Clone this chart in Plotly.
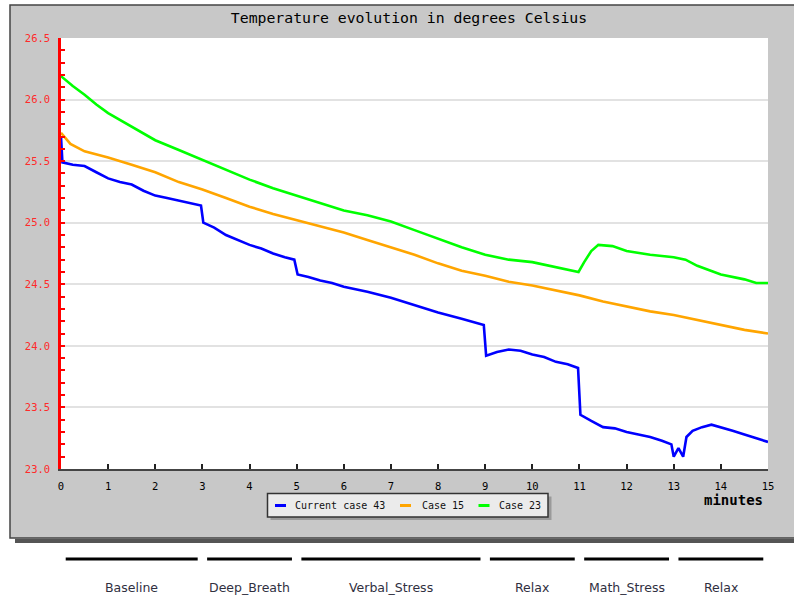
import plotly.graph_objects as go

# ---- data ----
t_blue = [0, 0.03, 0.25, 0.5, 0.75, 1.0, 1.25, 1.5, 1.75, 2.0, 2.25, 2.5, 2.75, 2.97, 3.02,
          3.25, 3.5, 3.75, 4.0, 4.25, 4.5, 4.75, 4.95, 5.02, 5.25, 5.5, 5.75, 6.0, 6.5, 7.0,
          7.5, 8.0, 8.5, 8.97, 9.02, 9.25, 9.5, 9.75, 10.0, 10.25, 10.5, 10.75, 10.97, 11.02,
          11.25, 11.5, 11.75, 12.0, 12.25, 12.5, 12.75, 12.95, 13.0, 13.1, 13.2, 13.27, 13.4,
          13.6, 13.8, 14.0, 14.25, 14.5, 14.75, 15.0]
v_blue = [25.70, 25.49, 25.47, 25.46, 25.41, 25.36, 25.33, 25.31, 25.26, 25.22, 25.20, 25.18,
          25.16, 25.14, 25.00, 24.96, 24.90, 24.86, 24.82, 24.79, 24.75, 24.72, 24.70, 24.58,
          24.56, 24.53, 24.51, 24.48, 24.44, 24.39, 24.33, 24.27, 24.22, 24.17, 23.92, 23.95,
          23.97, 23.96, 23.93, 23.91, 23.87, 23.85, 23.82, 23.44, 23.39, 23.34, 23.33, 23.30,
          23.28, 23.26, 23.23, 23.20, 23.10, 23.17, 23.10, 23.26, 23.31, 23.34, 23.36, 23.34,
          23.31, 23.28, 23.25, 23.22]

t_orange = [0, 0.2, 0.5, 1, 1.5, 2, 2.5, 3, 3.5, 4, 4.5, 5, 5.5, 6, 6.5, 7, 7.5, 8, 8.5, 9,
            9.5, 10, 10.5, 11, 11.5, 12, 12.5, 13, 13.5, 14, 14.5, 15]
v_orange = [25.73, 25.64, 25.58, 25.53, 25.47, 25.41, 25.33, 25.27, 25.20, 25.13, 25.07, 25.02,
            24.97, 24.92, 24.86, 24.80, 24.74, 24.67, 24.61, 24.57, 24.52, 24.49, 24.45, 24.41,
            24.36, 24.32, 24.28, 24.25, 24.21, 24.17, 24.13, 24.10]

t_green = [0, 0.25, 0.5, 0.75, 1, 1.5, 2, 2.5, 3, 3.5, 4, 4.5, 5, 5.5, 6, 6.5, 7, 7.5, 8, 8.5,
           9, 9.5, 10, 10.5, 10.98, 11.1, 11.25, 11.4, 11.7, 12, 12.5, 13, 13.25, 13.5, 14,
           14.5, 14.75, 15]
v_green = [26.19, 26.11, 26.04, 25.96, 25.89, 25.78, 25.67, 25.59, 25.51, 25.43, 25.35, 25.28,
           25.22, 25.16, 25.10, 25.06, 25.01, 24.94, 24.87, 24.80, 24.74, 24.70, 24.68, 24.64,
           24.60, 24.68, 24.77, 24.82, 24.81, 24.77, 24.74, 24.72, 24.70, 24.65, 24.58, 24.54,
           24.51, 24.51]

series_names = ["Current case 43", "Case 15", "Case 23"]
series_colors = ["#0000ff", "#ffa500", "#00ff00"]

phase_names = ["Baseline", "Deep_Breath", "Verbal_Stress", "Relax", "Math_Stress", "Relax"]
phase_start = [0, 3, 5, 9, 11, 13]
phase_end = [3, 5, 9, 11, 13, 15]

x_ticks = list(range(0, 16))
y_ticks = [23.0, 23.5, 24.0, 24.5, 25.0, 25.5, 26.0, 26.5]

# ---- geometry helpers (pixel -> paper) ----
L, R, T, B = 61, 768, 38, 469
W, H = 794, 595
def px(x):
    return (x - L) / (R - L)
def py(y):
    return (B - y) / (B - T)

fig = go.Figure()
data = [(t_blue, v_blue), (t_orange, v_orange), (t_green, v_green)]
for (tx, vy), name, col in zip(data, series_names, series_colors):
    fig.add_trace(go.Scatter(x=tx, y=vy, mode="lines", name=name,
                             line=dict(color=col, width=2.6), showlegend=False))

shapes = [
    # gray panel
    dict(type="rect", xref="paper", yref="paper", x0=px(10), x1=px(800), y0=py(538), y1=py(5),
         fillcolor="#c8c8c8", line=dict(color="#444444", width=1.5), layer="below"),
    # bottom shadow
    dict(type="rect", xref="paper", yref="paper", x0=px(15), x1=px(800), y0=py(543), y1=py(538.7),
         fillcolor="#555555", line=dict(width=0), layer="below"),
    # white plot area
    dict(type="rect", xref="paper", yref="paper", x0=0, x1=1, y0=0, y1=1,
         fillcolor="white", line=dict(width=0), layer="below"),
    # legend shadow and box
    dict(type="rect", xref="paper", yref="paper", x0=px(270.5), x1=px(551.5), y0=py(520),
         y1=py(496.5), fillcolor="#9a9a9a", line=dict(width=0), layer="above"),
    dict(type="rect", xref="paper", yref="paper", x0=px(267.5), x1=px(548), y0=py(517),
         y1=py(493.5), fillcolor="#ebebeb", line=dict(color="#333333", width=1.5), layer="above"),
]
annotations = [
    dict(text="<b>minutes</b>", xref="paper", yref="paper", x=px(733), y=py(500), showarrow=False,
         font=dict(family="DejaVu Sans Mono", size=14, color="black"),
         xanchor="center", yanchor="middle"),
]
# legend entries
legend_dash_x = [275, 400, 478.5]
legend_text_x = [293, 419.5, 497]
for name, col, dx, tx in zip(series_names, series_colors, legend_dash_x, legend_text_x):
    shapes.append(dict(type="line", xref="paper", yref="paper", x0=px(dx), x1=px(dx + 11),
                       y0=py(505.5), y1=py(505.5), line=dict(color=col, width=3), layer="above"))
    annotations.append(dict(text=name, xref="paper", yref="paper", x=px(tx), y=py(505.5),
                            showarrow=False, xanchor="left", yanchor="middle",
                            font=dict(family="DejaVu Sans Mono", size=10, color="#111111")))
# phases below the chart
for name, s, e in zip(phase_names, phase_start, phase_end):
    shapes.append(dict(type="line", xref="x", yref="paper", x0=s + 0.1, x1=e - 0.1,
                       y0=py(559), y1=py(559), line=dict(color="black", width=3)))
    annotations.append(dict(text=name, xref="x", yref="paper", x=(s + e) / 2, y=py(587),
                            showarrow=False, xanchor="center", yanchor="middle",
                            font=dict(family="DejaVu Sans", size=12.5, color="#30303f")))

fig.update_layout(
    width=W, height=H,
    margin=dict(l=L, r=W - R, t=T, b=H - B, pad=0),
    paper_bgcolor="white", plot_bgcolor="white",
    title=dict(text="Temperature evolution in degrees Celsius", x=409 / W, xanchor="center",
               y=1 - 18 / H, yanchor="middle",
               font=dict(family="DejaVu Sans Mono", size=14.8, color="black")),
    shapes=shapes, annotations=annotations,
    showlegend=False,
)
fig.update_xaxes(range=[0, 15], tickvals=x_ticks, ticktext=[str(v) for v in x_ticks],
                 showgrid=False, zeroline=False, showline=True, linecolor="#444444", linewidth=1.5,
                 ticks="inside", ticklen=5, tickwidth=1.5, tickcolor="#222222",
                 tickfont=dict(family="DejaVu Sans Mono", size=10.5, color="black"),
                 ticklabelstandoff=7, fixedrange=True)
fig.update_yaxes(range=[23, 26.5], tickvals=y_ticks, ticktext=["%.1f" % v for v in y_ticks],
                 showgrid=True, gridcolor="#e2e2e2", gridwidth=2, zeroline=False,
                 showline=True, linecolor="#ff0000", linewidth=2.5,
                 ticks="inside", ticklen=4, tickwidth=1.5, tickcolor="#ff0000",
                 minor=dict(dtick=0.1, ticks="inside", ticklen=4, tickwidth=1.5,
                            tickcolor="#ff0000", showgrid=False),
                 tickfont=dict(family="DejaVu Sans Mono", size=10.5, color="#ff2a2a"),
                 ticklabelstandoff=6, fixedrange=True)

fig.write_html("out.html")
